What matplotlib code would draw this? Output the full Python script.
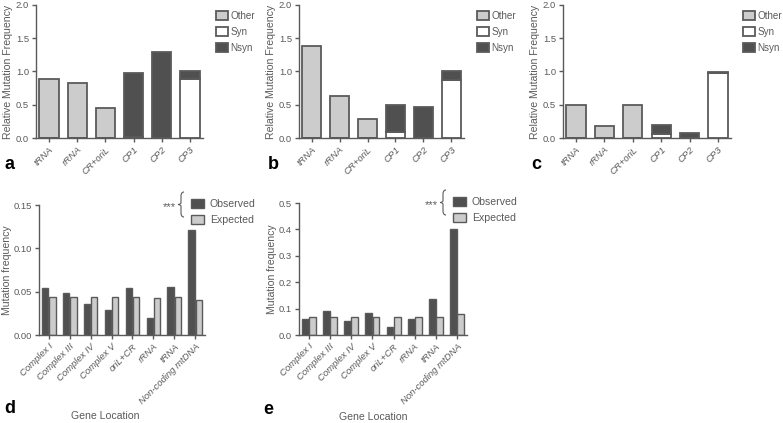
import matplotlib
matplotlib.use("Agg")
import matplotlib.pyplot as plt
from matplotlib.path import Path
from matplotlib.patches import PathPatch
import numpy as np

# -----------------------------
# Data
# -----------------------------
cats_top = ["tRNA", "rRNA", "CR+oriL", "CP1", "CP2", "CP3"]

a_other = [0.88, 0.82, 0.45, 0, 0, 0]
a_syn = [0, 0, 0, 0.02, 0, 0.88]
a_nsyn = [0, 0, 0, 0.96, 1.29, 0.12]

b_other = [1.38, 0.63, 0.28, 0, 0, 0]
b_syn = [0, 0, 0, 0.09, 0, 0.87]
b_nsyn = [0, 0, 0, 0.41, 0.47, 0.13]

c_other = [0.49, 0.18, 0.49, 0, 0, 0]
c_syn = [0, 0, 0, 0.06, 0, 0.97]
c_nsyn = [0, 0, 0, 0.13, 0.08, 0.03]

cats_bot = ["Complex I", "Complex III", "Complex IV", "Complex V",
            "oriL+CR", "rRNA", "tRNA", "Non-coding mtDNA"]

d_obs = [0.054, 0.049, 0.036, 0.029, 0.054, 0.020, 0.055, 0.121]
d_exp = [0.044, 0.044, 0.044, 0.044, 0.044, 0.043, 0.044, 0.040]

e_obs = [0.060, 0.092, 0.054, 0.084, 0.029, 0.062, 0.136, 0.403]
e_exp = [0.068, 0.068, 0.068, 0.068, 0.068, 0.068, 0.068, 0.081]

# -----------------------------
# Style
# -----------------------------
DARK = "#505050"
LIGHT = "#cccccc"
EDGE = "#5a5a5a"
TXT = "#5a5a5a"

plt.rcParams["font.family"] = ["Liberation Sans", "DejaVu Sans"]

W, H = 783, 423
fig = plt.figure(figsize=(W / 100, H / 100), dpi=100)


def box(l, r, t, b):
    return [l / W, 1 - b / H, (r - l) / W, (b - t) / H]


def px(x, y):
    return (x / W, 1 - y / H)


def style_axis(ax):
    for s in ["top", "right"]:
        ax.spines[s].set_visible(False)
    for s in ["left", "bottom"]:
        ax.spines[s].set_color(EDGE)
        ax.spines[s].set_linewidth(1.0)
    ax.tick_params(colors=EDGE, labelcolor=TXT, labelsize=6.8, length=3, width=1,
                   pad=2)


def top_panel(rect, other, syn, nsyn, letter, leg_gap):
    ax = fig.add_axes(box(*rect))
    x = np.arange(len(cats_top))
    w = 0.68
    ax.bar(x, other, w, color=LIGHT, edgecolor=EDGE, lw=1.3, label="Other")
    ax.bar(x, syn, w, color="white", edgecolor=EDGE, lw=1.3, label="Syn")
    ax.bar(x, nsyn, w, bottom=syn, color=DARK, edgecolor=EDGE, lw=1.3, label="Nsyn")
    ax.set_xlim(-0.46, len(cats_top) - 0.54)
    ax.set_ylim(0, 2.0)
    ax.set_yticks([0, 0.5, 1.0, 1.5, 2.0])
    ax.set_yticklabels(["0.0", "0.5", "1.0", "1.5", "2.0"])
    ax.set_xticks(x)
    ax.set_xticklabels(cats_top, rotation=45, ha="right", rotation_mode="anchor",
                       style="italic")
    ax.set_ylabel("Relative Mutation Frequency", color=TXT, fontsize=7.6, labelpad=2)
    style_axis(ax)
    l, r, t, b = rect
    fig.legend(*ax.get_legend_handles_labels(), loc="upper left",
               bbox_to_anchor=px(r + leg_gap, t + 2), frameon=False,
               fontsize=7.1, labelcolor=TXT, handlelength=1.2, handleheight=0.95,
               borderaxespad=0.0, labelspacing=0.6, handletextpad=0.3)
    ax.text(-0.19, -0.235, letter, transform=ax.transAxes, fontsize=13,
            fontweight="bold", color="black")
    return ax


top_panel((36, 203, 5, 138), a_other, a_syn, a_nsyn, "a", 9)
top_panel((299, 464, 5, 138), b_other, b_syn, b_nsyn, "b", 9)
top_panel((563, 731, 5, 138), c_other, c_syn, c_nsyn, "c", 8)


def brace(x, y0, y1):
    # thin left-facing curly brace in pixel coords
    ym = (y0 + y1) / 2
    verts = [px(x + 3, y0), px(x, y0), px(x, y0 + 4),
             px(x, ym - 2), px(x, ym), px(x - 3, ym),
             px(x, ym), px(x, ym + 2),
             px(x, y1 - 4), px(x, y1), px(x + 3, y1)]
    codes = [Path.MOVETO, Path.CURVE3, Path.CURVE3,
             Path.LINETO, Path.CURVE3, Path.CURVE3,
             Path.CURVE3, Path.CURVE3,
             Path.LINETO, Path.CURVE3, Path.CURVE3]
    fig.patches.append(PathPatch(Path(verts, codes), transform=fig.transFigure,
                                 fill=False, edgecolor=TXT, lw=0.8))


def bottom_panel(rect, obs, exp, ymax, yticks, ylabels, letter, leg_x, gl_x):
    ax = fig.add_axes(box(*rect))
    x = np.arange(len(cats_bot))
    w = 0.32
    ax.bar(x - w / 2 - 0.01, obs, w, color=DARK, edgecolor=EDGE, lw=1.0, label="Observed")
    ax.bar(x + w / 2 + 0.01, exp, w, color=LIGHT, edgecolor=EDGE, lw=1.0, label="Expected")
    ax.set_xlim(-0.46, len(cats_bot) - 0.54)
    ax.set_ylim(0, ymax)
    ax.set_yticks(yticks)
    ax.set_yticklabels(ylabels)
    ax.set_xticks(x)
    ax.set_xticklabels(cats_bot, rotation=45, ha="right", rotation_mode="anchor",
                       style="italic")
    ax.set_ylabel("Mutation frequency", color=TXT, fontsize=7.6, labelpad=1)
    ax.set_xlabel("Gene Location", color=TXT, fontsize=7.6)
    ax.xaxis.set_label_coords(gl_x, -0.585)
    style_axis(ax)
    l, r, t, b = rect
    fig.legend(*ax.get_legend_handles_labels(), loc="upper left",
               bbox_to_anchor=px(leg_x, t - 10), frameon=False,
               fontsize=7.6, labelcolor=TXT, handlelength=1.25, handleheight=0.95,
               borderaxespad=0.0, labelspacing=0.5, handletextpad=0.5)
    brace(leg_x - 6, t - 13, t + 12)
    fig.text(*px(leg_x - 18, t + 2), "***", fontsize=8, color=TXT,
             ha="center", va="center")
    ax.text(-0.21, -0.6, letter, transform=ax.transAxes, fontsize=13,
            fontweight="bold", color="black")
    return ax


bottom_panel((39, 205, 205, 335), d_obs, d_exp, 0.15,
             [0, 0.05, 0.10, 0.15], ["0.00", "0.05", "0.10", "0.15"], "d",
             187, 0.40)
bottom_panel((299, 467, 203, 335), e_obs, e_exp, 0.5,
             [0, 0.1, 0.2, 0.3, 0.4, 0.5], ["0.0", "0.1", "0.2", "0.3", "0.4", "0.5"],
             "e", 449, 0.44)

fig.savefig("out.png", dpi=100)
